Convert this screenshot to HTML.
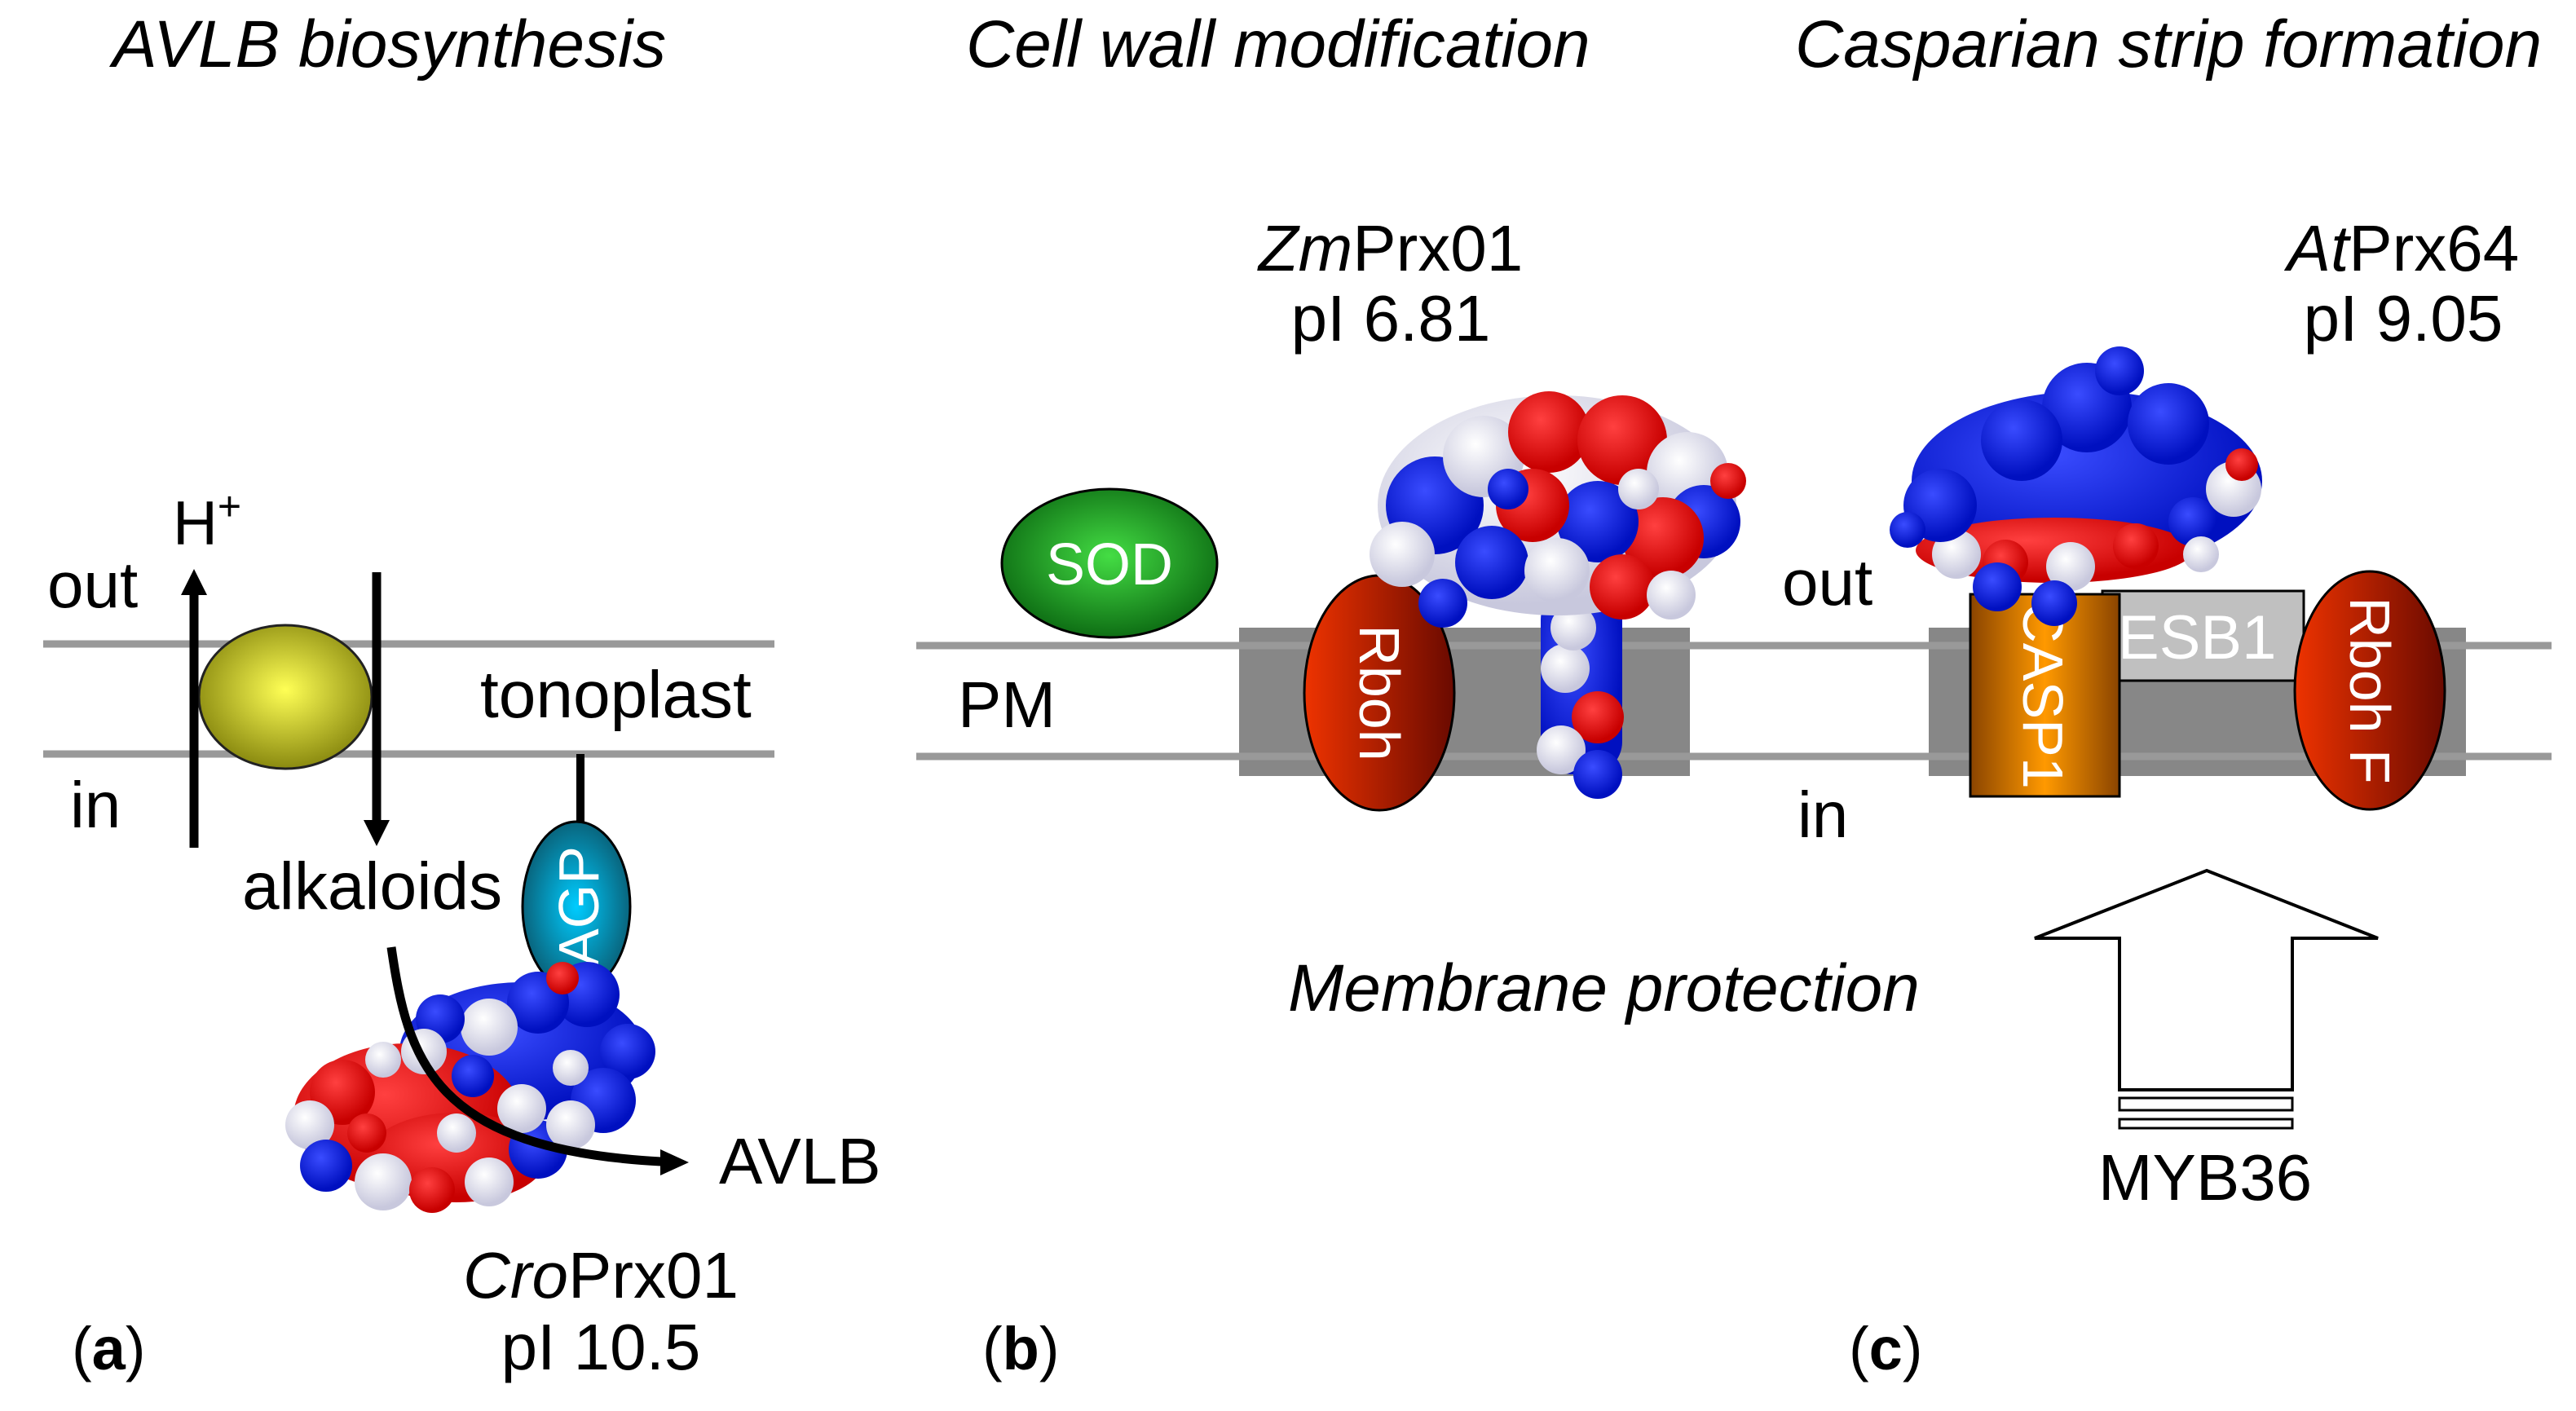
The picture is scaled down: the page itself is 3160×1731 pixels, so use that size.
<!DOCTYPE html>
<html><head><meta charset="utf-8"><style>
html,body{margin:0;padding:0;background:#fff}
svg{display:block}
text{font-family:"Liberation Sans",Arial,sans-serif;fill:#000}
</style></head><body>
<svg width="3160" height="1731" viewBox="0 0 3160 1731" xmlns="http://www.w3.org/2000/svg">
<defs>
<radialGradient id="yel" cx="50%" cy="45%" r="55%"><stop offset="0" stop-color="#ffff55"/><stop offset="1" stop-color="#8a8a10"/></radialGradient>
<radialGradient id="grn" cx="50%" cy="45%" r="55%"><stop offset="0" stop-color="#44dd44"/><stop offset="1" stop-color="#0e6e14"/></radialGradient>
<radialGradient id="agp" cx="50%" cy="50%" r="55%"><stop offset="0" stop-color="#00ccff"/><stop offset="1" stop-color="#0a5a70"/></radialGradient>
<linearGradient id="rb" x1="0" x2="1"><stop offset="0" stop-color="#ee3300"/><stop offset="1" stop-color="#6a0a00"/></linearGradient>
<linearGradient id="cs" x1="0" x2="1"><stop offset="0" stop-color="#8a4400"/><stop offset="0.5" stop-color="#ff9900"/><stop offset="1" stop-color="#8a4400"/></linearGradient>
<radialGradient id="bl" cx="40%" cy="35%" r="60%"><stop offset="0" stop-color="#3a4cff"/><stop offset="1" stop-color="#0010c0"/></radialGradient>
<radialGradient id="rd" cx="40%" cy="35%" r="60%"><stop offset="0" stop-color="#ff4040"/><stop offset="1" stop-color="#c80000"/></radialGradient>
<radialGradient id="wh" cx="40%" cy="35%" r="60%"><stop offset="0" stop-color="#ffffff"/><stop offset="1" stop-color="#c8c8dd"/></radialGradient>
</defs>

<!-- Titles -->
<text x="138" y="82" font-size="82" font-style="italic">AVLB biosynthesis</text>
<text x="1185" y="82" font-size="82" font-style="italic">Cell wall modification</text>
<text x="2202" y="82" font-size="82" font-style="italic">Casparian strip formation</text>

<!-- Panel a membrane -->
<line x1="53" y1="790" x2="950" y2="790" stroke="#999" stroke-width="9"/>
<line x1="53" y1="925" x2="950" y2="925" stroke="#999" stroke-width="9"/>
<ellipse cx="350" cy="855" rx="106" ry="88" fill="url(#yel)" stroke="#222" stroke-width="3"/>
<line x1="238" y1="1040" x2="238" y2="725" stroke="#000" stroke-width="11"/>
<polygon points="238,698 222,730 254,730" fill="#000"/>
<line x1="462" y1="702" x2="462" y2="1010" stroke="#000" stroke-width="11"/>
<polygon points="462,1038 446,1006 478,1006" fill="#000"/>
<text x="212" y="668" font-size="76">H<tspan font-size="50" dy="-30">+</tspan></text>
<text x="58" y="745" font-size="80">out</text>
<text x="86" y="1015" font-size="80">in</text>
<text x="589" y="880" font-size="82">tonoplast</text>
<text x="297" y="1115" font-size="82">alkaloids</text>
<line x1="712" y1="925" x2="712" y2="1010" stroke="#000" stroke-width="10"/>
<ellipse cx="707" cy="1112" rx="66" ry="104" fill="url(#agp)" stroke="#000" stroke-width="3"/>
<text transform="translate(734,1112) rotate(-90)" text-anchor="middle" font-size="70" style="fill:#fff">AGP</text>

<!-- protein a -->
<g>
<ellipse cx="640" cy="1290" rx="150" ry="85" fill="url(#bl)"/>
<ellipse cx="500" cy="1370" rx="140" ry="90" fill="url(#rd)"/>
<ellipse cx="560" cy="1420" rx="110" ry="55" fill="url(#rd)"/>
<circle cx="720" cy="1220" r="40" fill="url(#bl)"/><circle cx="770" cy="1290" r="34" fill="url(#bl)"/>
<circle cx="740" cy="1350" r="40" fill="url(#bl)"/><circle cx="660" cy="1230" r="38" fill="url(#bl)"/>
<circle cx="600" cy="1260" r="35" fill="url(#wh)"/><circle cx="540" cy="1250" r="30" fill="url(#bl)"/>
<circle cx="520" cy="1290" r="28" fill="url(#wh)"/><circle cx="420" cy="1340" r="40" fill="url(#rd)"/>
<circle cx="380" cy="1380" r="30" fill="url(#wh)"/><circle cx="400" cy="1430" r="32" fill="url(#bl)"/>
<circle cx="470" cy="1450" r="35" fill="url(#wh)"/><circle cx="530" cy="1460" r="28" fill="url(#rd)"/>
<circle cx="600" cy="1450" r="30" fill="url(#wh)"/><circle cx="660" cy="1410" r="36" fill="url(#bl)"/>
<circle cx="700" cy="1380" r="30" fill="url(#wh)"/><circle cx="640" cy="1360" r="30" fill="url(#wh)"/>
<circle cx="580" cy="1320" r="26" fill="url(#bl)"/><circle cx="470" cy="1300" r="22" fill="url(#wh)"/>
<circle cx="450" cy="1390" r="24" fill="url(#rd)"/><circle cx="690" cy="1200" r="20" fill="url(#rd)"/>
<circle cx="700" cy="1310" r="22" fill="url(#wh)"/><circle cx="560" cy="1390" r="24" fill="url(#wh)"/>
</g>
<path d="M480,1162 C500,1300 530,1410 811,1425" fill="none" stroke="#000" stroke-width="11"/>
<polygon points="845,1426 810,1410 810,1442" fill="#000"/>
<text x="882" y="1452" font-size="80">AVLB</text>
<text x="737" y="1592" font-size="80" text-anchor="middle"><tspan font-style="italic">Cro</tspan>Prx01</text>
<text x="737" y="1680" font-size="80" text-anchor="middle">pI 10.5</text>
<text x="88" y="1680" font-size="74">(<tspan font-weight="bold">a</tspan>)</text>

<!-- Panels b/c membrane -->
<line x1="1124" y1="792" x2="3130" y2="792" stroke="#999" stroke-width="9"/>
<line x1="1124" y1="928" x2="3130" y2="928" stroke="#999" stroke-width="9"/>
<rect x="1520" y="770" width="553" height="182" fill="#7a7a7a" opacity="0.9"/>
<rect x="2366" y="770" width="659" height="182" fill="#7a7a7a" opacity="0.9"/>
<line x1="1520" y1="792" x2="2073" y2="792" stroke="#999" stroke-width="9"/>
<line x1="1520" y1="928" x2="2073" y2="928" stroke="#999" stroke-width="9"/>
<line x1="2366" y1="792" x2="3025" y2="792" stroke="#999" stroke-width="9"/>
<line x1="2366" y1="928" x2="3025" y2="928" stroke="#999" stroke-width="9"/>

<ellipse cx="1361" cy="691" rx="132" ry="91" fill="url(#grn)" stroke="#000" stroke-width="3"/>
<text x="1361" y="717" font-size="72" text-anchor="middle" style="fill:#fff">SOD</text>
<text x="1175" y="892" font-size="80">PM</text>
<ellipse cx="1692" cy="850" rx="92" ry="144" fill="url(#rb)" stroke="#000" stroke-width="3"/>
<text transform="translate(1668,850) rotate(90)" text-anchor="middle" font-size="70" style="fill:#fff">Rboh</text>

<!-- protein b -->
<g>
<rect x="1890" y="720" width="100" height="230" rx="40" fill="url(#bl)"/>
<circle cx="1920" cy="820" r="30" fill="url(#wh)"/><circle cx="1960" cy="880" r="32" fill="url(#rd)"/>
<circle cx="1915" cy="920" r="30" fill="url(#wh)"/><circle cx="1960" cy="950" r="30" fill="url(#bl)"/>
<circle cx="1930" cy="770" r="28" fill="url(#wh)"/>
<ellipse cx="1910" cy="620" rx="220" ry="135" fill="url(#wh)"/>
<circle cx="1760" cy="620" r="60" fill="url(#bl)"/><circle cx="1720" cy="680" r="40" fill="url(#wh)"/>
<circle cx="1820" cy="560" r="50" fill="url(#wh)"/><circle cx="1900" cy="530" r="50" fill="url(#rd)"/>
<circle cx="1990" cy="540" r="55" fill="url(#rd)"/><circle cx="2070" cy="580" r="50" fill="url(#wh)"/>
<circle cx="2090" cy="640" r="45" fill="url(#bl)"/><circle cx="2040" cy="660" r="50" fill="url(#rd)"/>
<circle cx="1960" cy="640" r="50" fill="url(#bl)"/><circle cx="1880" cy="620" r="45" fill="url(#rd)"/>
<circle cx="1830" cy="690" r="45" fill="url(#bl)"/><circle cx="1910" cy="700" r="40" fill="url(#wh)"/>
<circle cx="1990" cy="720" r="40" fill="url(#rd)"/><circle cx="2050" cy="730" r="30" fill="url(#wh)"/>
<circle cx="1770" cy="740" r="30" fill="url(#bl)"/><circle cx="2120" cy="590" r="22" fill="url(#rd)"/>
<circle cx="1850" cy="600" r="25" fill="url(#bl)"/><circle cx="2010" cy="600" r="25" fill="url(#wh)"/>
</g>
<text x="1706" y="332" font-size="80" text-anchor="middle"><tspan font-style="italic">Zm</tspan>Prx01</text>
<text x="1706" y="418" font-size="80" text-anchor="middle">pI 6.81</text>
<text x="1580" y="1240" font-size="82" font-style="italic">Membrane protection</text>

<!-- Panel c -->
<text x="2186" y="742" font-size="80">out</text>
<text x="2205" y="1027" font-size="80">in</text>
<rect x="2579" y="725" width="247" height="110" fill="#c0c0c0" stroke="#000" stroke-width="3"/>
<text x="2598" y="808" font-size="76" style="fill:#fff">ESB1</text>
<rect x="2417" y="729" width="183" height="248" fill="url(#cs)" stroke="#000" stroke-width="3"/>
<text transform="translate(2482,853) rotate(90)" text-anchor="middle" font-size="70" style="fill:#fff">CASP1</text>
<ellipse cx="2907" cy="847" rx="92" ry="146" fill="url(#rb)" stroke="#000" stroke-width="3"/>
<text transform="translate(2883,847) rotate(90)" text-anchor="middle" font-size="70" style="fill:#fff">Rboh F</text>

<!-- protein c -->
<g>
<ellipse cx="2560" cy="590" rx="215" ry="110" fill="url(#bl)"/>
<ellipse cx="2520" cy="675" rx="170" ry="40" fill="url(#rd)"/>
<circle cx="2400" cy="680" r="30" fill="url(#wh)"/><circle cx="2460" cy="690" r="28" fill="url(#rd)"/>
<circle cx="2540" cy="695" r="30" fill="url(#wh)"/><circle cx="2620" cy="670" r="28" fill="url(#rd)"/>
<circle cx="2740" cy="600" r="34" fill="url(#wh)"/><circle cx="2750" cy="570" r="20" fill="url(#rd)"/>
<circle cx="2560" cy="500" r="55" fill="url(#bl)"/><circle cx="2600" cy="455" r="30" fill="url(#bl)"/>
<circle cx="2660" cy="520" r="50" fill="url(#bl)"/><circle cx="2480" cy="540" r="50" fill="url(#bl)"/>
<circle cx="2380" cy="620" r="45" fill="url(#bl)"/><circle cx="2450" cy="720" r="30" fill="url(#bl)"/>
<circle cx="2520" cy="740" r="28" fill="url(#bl)"/><circle cx="2690" cy="640" r="30" fill="url(#bl)"/>
<circle cx="2340" cy="650" r="22" fill="url(#bl)"/><circle cx="2700" cy="680" r="22" fill="url(#wh)"/>
</g>
<text x="2948" y="332" font-size="80" text-anchor="middle"><tspan font-style="italic">At</tspan>Prx64</text>
<text x="2948" y="418" font-size="80" text-anchor="middle">pI 9.05</text>

<polygon points="2707,1068 2917,1151 2812,1151 2812,1337 2600,1337 2600,1151 2496,1151" fill="#fff" stroke="#000" stroke-width="4"/>
<rect x="2600" y="1347" width="212" height="15" fill="#fff" stroke="#000" stroke-width="3"/>
<rect x="2600" y="1373" width="212" height="11" fill="#fff" stroke="#000" stroke-width="3"/>
<text x="2705" y="1472" font-size="80" text-anchor="middle">MYB36</text>

<text x="1205" y="1680" font-size="74">(<tspan font-weight="bold">b</tspan>)</text>
<text x="2268" y="1680" font-size="74">(<tspan font-weight="bold">c</tspan>)</text>
</svg>
</body></html>
